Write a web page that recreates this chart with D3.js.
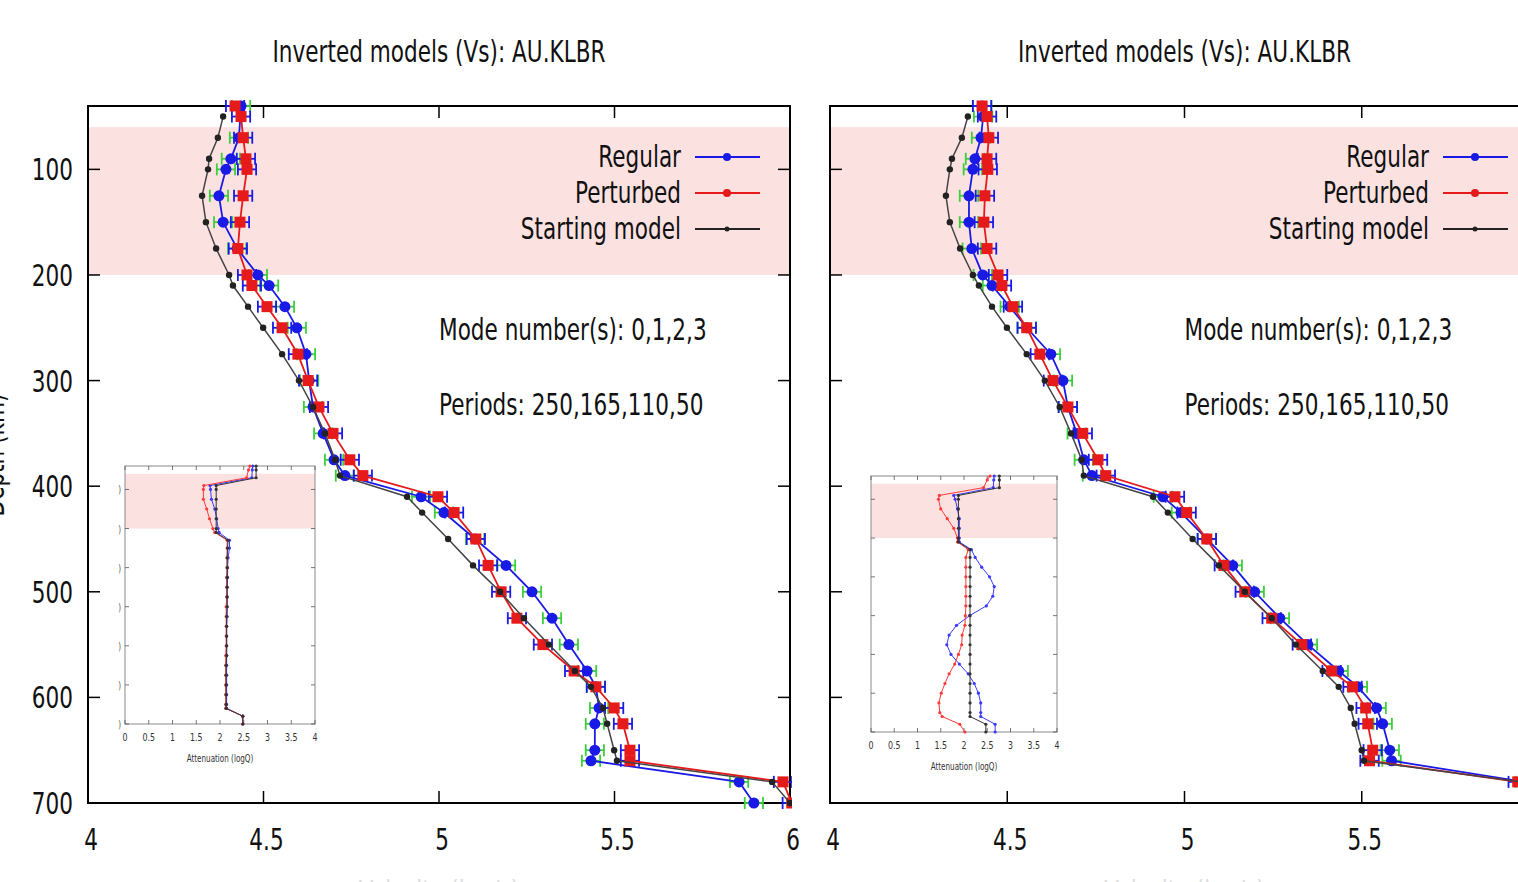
<!DOCTYPE html>
<html>
<head>
<meta charset="utf-8">
<script src="https://cdn.jsdelivr.net/npm/d3@7"></script>
<style>
  body { margin: 0; background: #fff; overflow: hidden; }
  text { font-family: "DejaVu Sans", sans-serif; }
</style>
</head>
<body>
<div id="chart"></div>
<script>
// Vs profiles, two panels (same station, different inset Q models)
var depths = [40, 50, 70, 90, 100, 125, 150, 175, 200, 210, 230, 250, 275, 300, 325, 350, 375, 390,
  410, 425, 450, 475, 500, 525, 550, 575, 590, 610, 625, 650, 660, 680, 700];

// left panel
var regularL = [4.436, null, 4.430, 4.407, 4.393, 4.373, 4.385, 4.425, 4.484, 4.516, 4.561, 4.595, 4.621, 4.630, 4.641, 4.670, 4.701, 4.732,
  4.949, 5.014, 5.103, 5.191, 5.265, 5.322, 5.370, 5.422, 5.447, 5.456, 5.444, 5.444, 5.433, 5.855, 5.897];
var perturbedL = [4.419, 4.436, 4.442, 4.450, 4.453, 4.442, 4.433, 4.427, 4.453, 4.467, 4.510, 4.553, 4.598, 4.627, 4.658, 4.698, 4.746, 4.783,
  4.997, 5.043, 5.105, 5.140, 5.177, 5.222, 5.296, 5.385, 5.447, 5.499, 5.524, 5.544, 5.544, 5.980, 6.005];
var startL = [null, 4.385, 4.370, 4.345, 4.342, 4.325, 4.336, 4.365, 4.402, 4.413, 4.456, 4.499, 4.553, 4.601, 4.641, 4.675, 4.704, 4.718,
  4.909, 4.952, 5.026, 5.097, 5.174, 5.242, 5.313, 5.387, 5.433, 5.467, 5.479, 5.499, 5.507, 5.949, 6.0];

// right panel
var regularR = [4.429, 4.432, 4.426, 4.409, 4.403, 4.392, 4.392, 4.400, 4.431, 4.457, 4.507, 4.555, 4.623, 4.657, 4.671, 4.696, 4.716, 4.739,
  4.939, 4.990, 5.063, 5.136, 5.198, 5.269, 5.348, 5.435, 5.489, 5.542, 5.559, 5.579, 5.584, 5.960, 6.020];
var perturbedR = [4.429, 4.443, 4.448, 4.443, 4.445, 4.437, 4.434, 4.443, 4.474, 4.485, 4.516, 4.555, 4.592, 4.629, 4.671, 4.713, 4.756, 4.778,
  4.973, 5.006, 5.063, 5.111, 5.170, 5.246, 5.331, 5.415, 5.474, 5.511, 5.517, 5.531, 5.522, 5.940, 6.000];
var startR = [null, 4.389, 4.372, 4.344, 4.338, 4.327, 4.338, 4.367, 4.403, 4.420, 4.457, 4.499, 4.555, 4.606, 4.648, 4.680, 4.710, 4.716,
  4.911, 4.953, 5.023, 5.097, 5.170, 5.246, 5.314, 5.390, 5.435, 5.469, 5.480, 5.500, 5.506, 5.950, 6.000];

var errRegular = 0.026, errPerturbed = 0.026;

// insets: attenuation (logQ)
var qDepths = [40, 50, 70, 90, 100, 125, 150, 175, 200, 210, 230, 250, 275, 300, 325, 350, 375, 400,
  425, 450, 475, 500, 525, 550, 575, 600, 625, 650, 660, 680, 700];
var qRegularL = [2.69, 2.68, 2.67, 1.79, 1.80, 1.82, 1.89, 1.93, 1.96, 1.98, 2.20, 2.20, 2.17, 2.16, 2.16, 2.15, 2.15, 2.15,
  2.15, 2.14, 2.14, 2.14, 2.14, 2.14, 2.14, 2.14, 2.14, 2.14, 2.14, 2.48, 2.48];
var qPerturbedL = [2.63, 2.60, 2.56, 1.66, 1.65, 1.65, 1.72, 1.78, 1.85, 1.89, 2.15, 2.15, 2.15, 2.15, 2.14, 2.14, 2.14, 2.13,
  2.13, 2.13, 2.13, 2.13, 2.12, 2.12, 2.12, 2.12, 2.12, 2.12, 2.12, 2.48, 2.48];
var qStartL = [2.76, 2.76, 2.76, 1.92, 1.92, 1.92, 1.92, 1.92, 1.92, 1.92, 2.17, 2.16, 2.15, 2.15, 2.15, 2.15, 2.15, 2.15,
  2.14, 2.14, 2.14, 2.14, 2.14, 2.13, 2.13, 2.13, 2.13, 2.13, 2.13, 2.48, 2.48];
var qRegularR = [2.65, 2.64, 2.63, 1.78, 1.81, 1.86, 1.90, 1.90, 1.90, 1.90, 2.16, 2.24, 2.38, 2.55, 2.65, 2.62, 2.48, 2.12,
  1.84, 1.68, 1.63, 1.72, 1.90, 2.09, 2.22, 2.31, 2.36, 2.36, 2.36, 2.67, 2.67];
var qPerturbedR = [2.56, 2.50, 2.42, 1.47, 1.45, 1.50, 1.64, 1.78, 1.86, 1.86, 2.09, 2.04, 2.04, 2.04, 2.04, 2.04, 2.04, 2.03,
  2.02, 1.96, 1.95, 1.88, 1.80, 1.68, 1.59, 1.51, 1.46, 1.48, 1.53, 1.91, 2.02];
var qStartR = [2.76, 2.76, 2.76, 1.88, 1.88, 1.88, 1.88, 1.88, 1.88, 1.88, 2.13, 2.13, 2.13, 2.13, 2.13, 2.13, 2.13, 2.13,
  2.13, 2.13, 2.13, 2.13, 2.13, 2.13, 2.13, 2.13, 2.13, 2.13, 2.13, 2.47, 2.47];

var xTicksL = [4, 4.5, 5, 5.5, 6],
  xTicksR = [4, 4.5, 5, 5.5, 6],
  xLabelsR = [4, 4.5, 5, 5.5],
  yTicks = [100, 200, 300, 400, 500, 600, 700],
  qTicks = [0, 0.5, 1, 1.5, 2, 2.5, 3, 3.5, 4],
  band = [60, 200],
  legendLabels = ["Regular", "Perturbed", "Starting model"],
  title = "Inverted models (Vs): AU.KLBR",
  notes = ["Mode number(s): 0,1,2,3", "Periods: 250,165,110,50"];

var W = 1518, H = 882;
var cBlue = "#1a1ae6", cRed = "#e61a1a", cBlack = "#222", cGreen = "#3ccf3c", cBand = "#fce1e1";
var sx = 0.72; // narrow text look

var svg = d3.select("#chart").append("svg")
  .attr("width", W)
  .attr("height", H);

// text helper, squeezed horizontally
function label(g, x, y, str, size, anchor, fill) {
  return g.append("text")
    .attr("transform", "translate(" + x + "," + y + ") scale(" + sx + ",1)")
    .attr("text-anchor", anchor || "start")
    .attr("font-size", size)
    .attr("fill", fill || "#111")
    .text(str);
}

function pairs(vals, ds) {
  return vals.map(function(v, i) { return {d: ds[i], v: v}; }).filter(function(p) { return p.v != null; });
}

function drawPanel(p) {
  var x = d3.scaleLinear().domain([4, 6]).range([p.x0, p.x1]);
  var y = d3.scaleLinear().domain([40, 700]).range([106, 803]);
  var g = svg.append("g");
  var id = "clip" + p.name;

  g.append("clipPath").attr("id", id).append("rect")
    .attr("x", p.x0).attr("y", 96)
    .attr("width", x(6) - p.x0 + 2).attr("height", 718);

  // pink band
  g.append("rect")
    .attr("x", p.x0).attr("width", x(6) - p.x0)
    .attr("y", y(band[0])).attr("height", y(band[1]) - y(band[0]))
    .attr("fill", cBand);

  // title
  label(g, (p.x0 + x(6)) / 2, 62, title, 30, "middle");

  // frame + ticks
  g.append("rect")
    .attr("x", p.x0).attr("y", y(40))
    .attr("width", x(6) - p.x0).attr("height", y(700) - y(40))
    .attr("fill", "none").attr("stroke", "#000").attr("stroke-width", 2);

  var ax = g.append("g").attr("stroke", "#000").attr("stroke-width", 1.5);
  p.xTicks.forEach(function(t) {
    ax.append("line").attr("x1", x(t)).attr("x2", x(t)).attr("y1", y(700)).attr("y2", y(700) - 12);
    ax.append("line").attr("x1", x(t)).attr("x2", x(t)).attr("y1", y(40)).attr("y2", y(40) + 12);
  });
  p.xLabels.forEach(function(t) {
    label(g, x(t) + 3, 850, d3.format("")(t), 30, "middle");
  });
  yTicks.forEach(function(t) {
    ax.append("line").attr("x1", p.x0).attr("x2", p.x0 + 12).attr("y1", y(t)).attr("y2", y(t));
    ax.append("line").attr("x1", x(6)).attr("x2", x(6) - 12).attr("y1", y(t)).attr("y2", y(t));
    if (p.yLabels) label(g, p.x0 - 15, y(t) + 11, t, 30, "end");
  });

  // axis titles (mostly off the picture in the original)
  if (p.yLabels) {
    g.append("text")
      .attr("transform", "translate(" + (p.x0 - 84) + ",455) rotate(-90) scale(" + sx + ",1)")
      .attr("text-anchor", "middle").attr("font-size", 30).attr("fill", "#111")
      .text("Depth (km)");
  }
  label(g, (p.x0 + x(6)) / 2, 902, "Velocity (km/s)", 30, "middle", "#ddd");

  // notes
  label(g, x(5), 340, notes[0], 30, "start");
  label(g, x(5), 415, notes[1], 30, "start");

  var data = g.append("g").attr("clip-path", "url(#" + id + ")");
  var line = d3.line().x(function(d) { return x(d.v); }).y(function(d) { return y(d.d); });

  function errBars(pts, err, col) {
    var e = data.append("g").attr("stroke", col).attr("stroke-width", 1.8);
    pts.forEach(function(d) {
      e.append("line").attr("x1", x(d.v - err)).attr("x2", x(d.v + err)).attr("y1", y(d.d)).attr("y2", y(d.d));
      e.append("line").attr("x1", x(d.v - err)).attr("x2", x(d.v - err)).attr("y1", y(d.d) - 6).attr("y2", y(d.d) + 6);
      e.append("line").attr("x1", x(d.v + err)).attr("x2", x(d.v + err)).attr("y1", y(d.d) - 6).attr("y2", y(d.d) + 6);
    });
  }

  // regular
  var reg = pairs(p.regular, depths);
  errBars(reg, errRegular, cGreen);
  data.append("path").datum(reg).attr("d", line).attr("fill", "none").attr("stroke", cBlue).attr("stroke-width", 1.8);
  data.append("g").selectAll("circle").data(reg).enter().append("circle")
    .attr("cx", function(d) { return x(d.v); }).attr("cy", function(d) { return y(d.d); })
    .attr("r", 5.5).attr("fill", cBlue);

  // perturbed
  var per = pairs(p.perturbed, depths);
  errBars(per, errPerturbed, cBlue);
  data.append("path").datum(per).attr("d", line).attr("fill", "none").attr("stroke", cRed).attr("stroke-width", 1.8);
  data.append("g").selectAll("rect").data(per).enter().append("rect")
    .attr("x", function(d) { return x(d.v) - 5.5; }).attr("y", function(d) { return y(d.d) - 5.5; })
    .attr("width", 11).attr("height", 11).attr("fill", cRed);

  // starting model
  var st = pairs(p.start, depths);
  data.append("path").datum(st).attr("d", line).attr("fill", "none").attr("stroke", "#444").attr("stroke-width", 1.5);
  data.append("g").selectAll("circle").data(st).enter().append("circle")
    .attr("cx", function(d) { return x(d.v); }).attr("cy", function(d) { return y(d.d); })
    .attr("r", 3.2).attr("fill", cBlack);

  // legend
  var lx = p.legendX;
  var cols = [cBlue, cRed, cBlack];
  legendLabels.forEach(function(s, i) {
    var ly = 157 + i * 36;
    label(g, lx - 14, ly + 10, s, 30, "end");
    g.append("line").attr("x1", lx).attr("x2", lx + 65).attr("y1", ly).attr("y2", ly)
      .attr("stroke", cols[i]).attr("stroke-width", 1.8);
    g.append("circle").attr("cx", lx + 32).attr("cy", ly).attr("r", i == 2 ? 2.5 : 4).attr("fill", cols[i]);
  });

  drawInset(g, p.inset);
}

function drawInset(g, b) {
  var qx = d3.scaleLinear().domain([0, 4]).range([b.x0, b.x1]);
  var qy = d3.scaleLinear().domain([40, 700]).range([b.y0, b.y1]);
  var ig = g.append("g");
  ig.append("rect").attr("x", b.x0).attr("y", b.y0).attr("width", b.x1 - b.x0).attr("height", b.y1 - b.y0).attr("fill", "#fff");
  ig.append("rect").attr("x", b.x0).attr("width", b.x1 - b.x0)
    .attr("y", qy(band[0])).attr("height", qy(band[1]) - qy(band[0])).attr("fill", cBand);
  ig.append("rect").attr("x", b.x0).attr("y", b.y0).attr("width", b.x1 - b.x0).attr("height", b.y1 - b.y0)
    .attr("fill", "none").attr("stroke", "#8a8a8a").attr("stroke-width", 1);

  var tk = ig.append("g").attr("stroke", "#555").attr("stroke-width", 0.8);
  qTicks.forEach(function(t) {
    tk.append("line").attr("x1", qx(t)).attr("x2", qx(t)).attr("y1", b.y1).attr("y2", b.y1 - 4);
    tk.append("line").attr("x1", qx(t)).attr("x2", qx(t)).attr("y1", b.y0).attr("y2", b.y0 + 4);
    label(ig, qx(t), b.y1 + 17, t, 11, "middle", "#333");
  });
  yTicks.forEach(function(t) {
    tk.append("line").attr("x1", b.x0).attr("x2", b.x0 + 4).attr("y1", qy(t)).attr("y2", qy(t));
    tk.append("line").attr("x1", b.x1).attr("x2", b.x1 - 4).attr("y1", qy(t)).attr("y2", qy(t));
    if (b.yMarks) label(ig, b.x0 - 4, qy(t) + 4, ")", 10, "end", "#555");
  });
  label(ig, (b.x0 + b.x1) / 2, b.y1 + 38, "Attenuation (logQ)", 10, "middle", "#333");

  var qline = d3.line().x(function(d) { return qx(d.v); }).y(function(d) { return qy(d.d); });
  [[b.regular, "#3a3aff"], [b.perturbed, "#ff3a3a"], [b.start, "#333"]].forEach(function(s) {
    var pts = pairs(s[0], qDepths);
    ig.append("path").datum(pts).attr("d", qline).attr("fill", "none").attr("stroke", s[1]).attr("stroke-width", 1);
    ig.append("g").selectAll("circle").data(pts).enter().append("circle")
      .attr("cx", function(d) { return qx(d.v); }).attr("cy", function(d) { return qy(d.d); })
      .attr("r", 1.6).attr("fill", s[1]);
  });
}

drawPanel({
  name: "L", x0: 88, x1: 790, legendX: 695, yLabels: true,
  xTicks: xTicksL, xLabels: xTicksL,
  regular: regularL, perturbed: perturbedL, start: startL,
  inset: {x0: 125, x1: 315, y0: 466, y1: 724, yMarks: true, regular: qRegularL, perturbed: qPerturbedL, start: qStartL}
});
drawPanel({
  name: "R", x0: 830, x1: 1539, legendX: 1443, yLabels: false,
  xTicks: xTicksR, xLabels: xLabelsR,
  regular: regularR, perturbed: perturbedR, start: startR,
  inset: {x0: 871, x1: 1057, y0: 476, y1: 732, yMarks: false, regular: qRegularR, perturbed: qPerturbedR, start: qStartR}
});
</script>
</body>
</html>
